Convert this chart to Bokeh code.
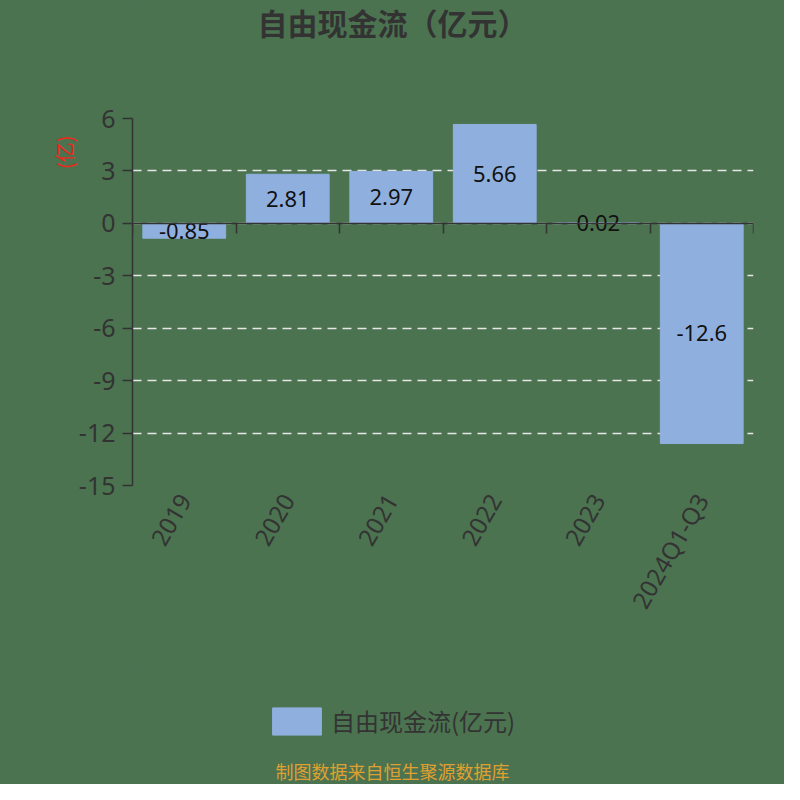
import math
from bokeh.plotting import figure
from bokeh.layouts import column
from bokeh.models import Range1d, FixedTicker, LinearAxis, Label, Title, CustomJSTickFormatter
from bokeh.core.properties import value
from bokeh.embed import file_html
from bokeh.resources import INLINE

categories = ["2019", "2020", "2021", "2022", "2023", "2024Q1-Q3"]
values = [-0.85, 2.81, 2.97, 5.66, 0.02, -12.6]
y_ticks = [-15, -12, -9, -6, -3, 0, 3, 6]
y_tick_labels = ["-15", "-12", "-9", "-6", "-3", "0", "3", "6"]
series_name = "自由现金流(亿元)"
title_text = "自由现金流（亿元）"
unit_text = "(亿)"
source_text = "制图数据来自恒生聚源数据库"

BG = "#4b7350"
BAR = "#8fb0de"
DARK = "#333333"
CJK = "Noto Sans CJK SC"
NUM = "Noto Sans"
W = 784
BORDER_L, BORDER_R = 132, 31


def blank(height):
    f = figure(width=W, height=height, output_backend="svg", toolbar_location=None,
               x_range=Range1d(0, 1), y_range=Range1d(100, 101),
               x_axis_type=None, y_axis_type=None,
               min_border_left=BORDER_L, min_border_right=BORDER_R,
               min_border_top=0, min_border_bottom=0,
               styles={"background-color": BG})
    f.background_fill_color = BG
    f.border_fill_color = BG
    f.outline_line_color = None
    f.xgrid.visible = False
    f.ygrid.visible = False
    return f


# header
head = blank(98)
head.add_layout(Label(x=260, y=77, x_units="screen", y_units="screen", text=title_text,
                      text_align="center", text_baseline="middle", text_font_size="30px",
                      text_font_style="bold", text_color=DARK, text_font=CJK))

# main chart
xs = [i + 0.5 for i in range(len(categories))]
bounds = list(range(len(categories) + 1))
labels = [f"{v:g}" for v in values]

p = figure(width=W, height=568, output_backend="svg", toolbar_location=None,
           x_range=Range1d(0, len(categories)), y_range=Range1d(min(y_ticks), max(y_ticks)),
           min_border_left=BORDER_L, min_border_right=BORDER_R,
           min_border_top=20, min_border_bottom=181,
           styles={"background-color": BG})
p.background_fill_color = BG
p.border_fill_color = BG
p.outline_line_color = None

p.vbar(x=xs, top=values, bottom=0, width=0.8, color=BAR)
p.text(x=xs, y=[v / 2 for v in values], text=labels, text_align="center",
       text_baseline="middle", text_font_size="22px", text_color="#111111",
       text_font=value(NUM))

ya = p.yaxis[0]
ya.ticker = FixedTicker(ticks=y_ticks)
ya.major_label_overrides = {t: s for t, s in zip(y_ticks, y_tick_labels)}
ya.axis_line_color = DARK
ya.axis_line_width = 1.5
ya.major_tick_line_color = DARK
ya.major_tick_line_width = 1.5
ya.major_tick_out = 10
ya.major_tick_in = 0
ya.minor_tick_line_color = None
ya.major_label_text_font_size = "25px"
ya.major_label_text_color = DARK
ya.major_label_text_font = NUM
ya.major_label_standoff = 7

p.ygrid.ticker = FixedTicker(ticks=y_ticks)
p.ygrid.grid_line_color = "#e6e6e6"
p.ygrid.grid_line_dash = "9 6"
p.ygrid.grid_line_width = 1.5
p.xgrid.visible = False

xa = p.xaxis[0]
xa.ticker = FixedTicker(ticks=xs)
xa.major_label_overrides = {x: c for x, c in zip(xs, categories)}
xa.axis_line_color = None
xa.major_tick_line_color = None
xa.minor_tick_line_color = None
xa.major_label_orientation = math.pi / 3
xa.major_label_text_font_size = "24px"
xa.major_label_text_color = DARK
xa.major_label_text_font = NUM
xa.major_label_standoff = 4

za = LinearAxis(fixed_location=0, ticker=FixedTicker(ticks=bounds),
                formatter=CustomJSTickFormatter(code="return ''"))
za.axis_line_color = DARK
za.axis_line_width = 1.5
za.major_tick_line_color = DARK
za.major_tick_line_width = 1.5
za.major_tick_in = 10
za.major_tick_out = 0
za.minor_tick_line_color = None
za.major_label_standoff = 0
p.add_layout(za, "above")

unit = Title(text=unit_text, align="right", text_color="#e8291c", text_font_size="20px",
             text_font=CJK, text_font_style="normal", offset=17, standoff=-6)
p.add_layout(unit, "left")

# footer: legend and source note
foot = blank(118)
foot.vbar(x=xs, top=values, bottom=0, width=0.8, color=BAR, legend_label=series_name)
lg = foot.legend[0]
lg.location = (134, 46)
lg.label_text_font_size = "24px"
lg.label_text_font = CJK
lg.label_text_color = DARK
lg.glyph_width = 61
lg.glyph_height = 34
lg.label_height = 34
lg.padding = 0
lg.margin = 0
lg.label_standoff = 4
lg.background_fill_alpha = 0
lg.border_line_alpha = 0
foot.add_layout(Label(x=260, y=14, x_units="screen", y_units="screen", text=source_text,
                      text_align="center", text_baseline="middle", text_font_size="18px",
                      text_color="#e0a030", text_font=CJK))

layout = column(head, p, foot, spacing=0, styles={"background-color": BG})
open("out.html", "w").write(file_html(layout, INLINE))
